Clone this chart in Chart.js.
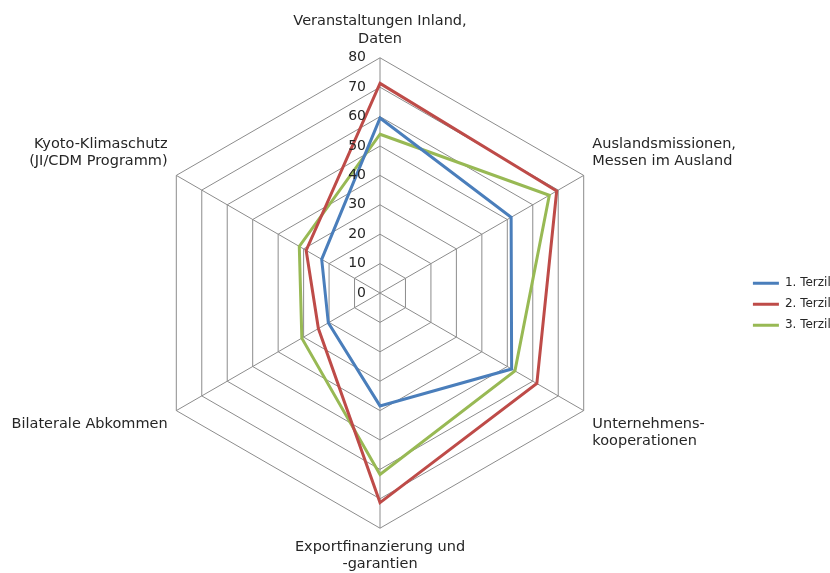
<!DOCTYPE html>
<html>
<head>
<meta charset="utf-8">
<script src="https://cdn.jsdelivr.net/npm/chart.js@4"></script>
<style>
  html, body { margin: 0; padding: 0; background: #fff; }
  #wrap { width: 830px; height: 573px; overflow: hidden; }
</style>
</head>
<body>
<div id="wrap"><canvas id="radar"></canvas></div>
<script>
"use strict";
// axis labels, clockwise from the top
const categories = [
    ['Veranstaltungen Inland,', 'Daten'],
    ['Auslandsmissionen,', 'Messen im Ausland'],
    ['Unternehmens-', 'kooperationen'],
    ['Exportfinanzierung und', '-garantien'],
    'Bilaterale Abkommen',
    ['Kyoto-Klimaschutz', '(JI/CDM Programm)']
];
const seriesNames = ['1. Terzil', '2. Terzil', '3. Terzil'];
const terzil1 = [59.5, 51.5, 51.7, 38.4, 20.3, 22.9];
const terzil2 = [71.3, 69.4, 61.6, 71.3, 24.2, 29.0];
const terzil3 = [54.0, 66.5, 53.0, 61.7, 30.7, 31.7];
const tickMin = 0;
const tickMax = 80;
const tickStep = 10;

const colors = ['#4A7EBB', '#BE4B48', '#98B954'];
const fontFamily = '"DejaVu Sans", sans-serif';

// tick numbers sit left of the vertical axis, like the original
const leftTicks = {
    id: 'leftTicks',
    afterDatasetsDraw(chart) {
        const scale = chart.scales.r;
        const c = chart.ctx;
        c.save();
        c.font = '14px ' + fontFamily;
        c.fillStyle = '#262626';
        c.textAlign = 'right';
        c.textBaseline = 'middle';
        scale.ticks.forEach(t => {
            const p = scale.getPointPositionForValue(0, t.value);
            c.fillText(String(t.value), p.x - 14, p.y);
        });
        c.restore();
    }
};

const ctx = document.getElementById('radar').getContext('2d');
new Chart(ctx, {
    type: 'radar',
    data: {
        labels: categories,
        datasets: [terzil1, terzil2, terzil3].map((d, i) => ({
            label: seriesNames[i],
            data: d,
            borderColor: colors[i],
            backgroundColor: colors[i],
            borderWidth: 3,
            pointRadius: 0,
            fill: false
        }))
    },
    options: {
        responsive: true,
        maintainAspectRatio: false,
        animation: false,
        layout: { padding: { left: 3, right: -10.75, top: 13, bottom: 0 } },
        plugins: {
            legend: {
                position: 'right',
                title: { display: true, text: '', padding: { top: 4, bottom: 4 } },
                labels: {
                    usePointStyle: true,
                    pointStyle: 'line',
                    pointStyleWidth: 26,
                    padding: 9,
                    color: '#262626',
                    font: { family: fontFamily, size: 12 }
                }
            },
            tooltip: { enabled: false }
        },
        scales: {
            r: {
                min: tickMin,
                max: tickMax,
                ticks: { stepSize: tickStep, display: false },
                grid: { color: '#8C8C8C', lineWidth: 1 },
                angleLines: { color: '#8C8C8C', lineWidth: 1 },
                pointLabels: {
                    color: '#262626',
                    padding: 10,
                    font: { family: fontFamily, size: 14.5 }
                }
            }
        }
    },
    plugins: [leftTicks]
});
</script>
</body>
</html>
